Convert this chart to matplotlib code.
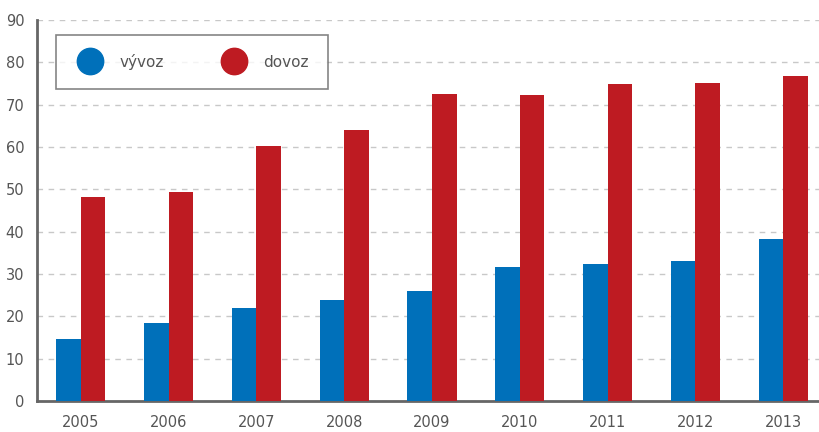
import matplotlib
matplotlib.use("Agg")
import matplotlib.pyplot as plt
from matplotlib.lines import Line2D
import numpy as np

# data
roky = ["2005", "2006", "2007", "2008", "2009", "2010", "2011", "2012", "2013"]
vyvoz = [14.7, 18.4, 21.9, 23.8, 26.0, 31.6, 32.3, 33.1, 38.3]
dovoz = [48.2, 49.4, 60.2, 64.0, 72.6, 72.2, 74.8, 75.2, 76.7]

modra = "#0070BA"
cervena = "#BE1B22"
seda = "#555555"

plt.rcParams['font.family'] = ['DejaVu Sans']

fig = plt.figure(figsize=(8.2, 4.32), dpi=100)
ax = fig.add_axes([0.045, 0.072, 0.955, 0.882])

x = np.arange(len(roky))
w = 0.28
ax.bar(x - w / 2, vyvoz, width=w, color=modra, zorder=3)
ax.bar(x + w / 2, dovoz, width=w, color=cervena, zorder=3)

ax.set_xlim(-0.5, 8.42)
ax.set_ylim(0, 90)
ax.set_yticks(range(0, 91, 10))
ax.set_xticks(x)
ax.set_xticklabels(roky)

ax.yaxis.grid(True, linestyle=(0, (4, 4)), color="#c8c8c8", linewidth=1)
ax.set_axisbelow(True)

for s in ["top", "right"]:
    ax.spines[s].set_visible(False)
for s in ["left", "bottom"]:
    ax.spines[s].set_color("#666666")
    ax.spines[s].set_linewidth(2)

ax.tick_params(axis="both", length=0, labelsize=10.5, colors=seda)
ax.tick_params(axis="x", pad=10)
ax.tick_params(axis="y", pad=9)

# legenda s kruhovymi znackami
handles = [
    Line2D([], [], marker="o", linestyle="", markersize=19, color=modra, label="vývoz"),
    Line2D([], [], marker="o", linestyle="", markersize=19, color=cervena, label="dovoz"),
]
leg = ax.legend(handles=handles, loc="upper left", bbox_to_anchor=(0.0243, 0.961),
                borderaxespad=0, ncol=2, frameon=True, fancybox=False, fontsize=11,
                handlelength=2.0, handletextpad=0.9, columnspacing=3.6,
                borderpad=1.25, labelcolor=seda)
leg.get_frame().set_edgecolor("#666666")
leg.get_frame().set_linewidth(1.2)

fig.savefig("out.png", dpi=100)
